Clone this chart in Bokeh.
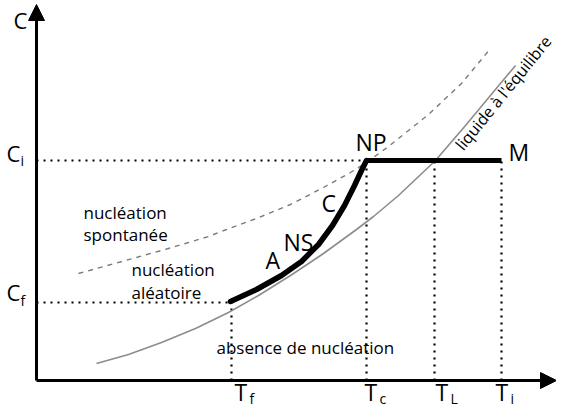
from bokeh.plotting import figure
from bokeh.models import Range1d, Arrow, NormalHead, LabelSet, ColumnDataSource
from bokeh.core.properties import value
from bokeh.embed import file_html
from bokeh.resources import INLINE

# ---- data (schematic units: T along x, C along y) ----
T_ticks = [195, 330, 398, 465]          # T_f, T_c, T_L, T_i
T_subs = ["f", "c", "L", "i"]
T_label_nudge = [3, -2, 1, -6]
C_levels = [78, 220]                    # C_f, C_i
C_subs = ["f", "i"]

eq_T = [60, 92, 125, 159, 192, 222, 254, 287, 320, 337, 362, 399, 429, 479]
eq_C = [17, 26, 38, 52, 68, 85, 105, 127, 151, 164, 185, 220, 255, 315]

spont_T = [42, 89, 132, 172, 190, 220, 254, 287, 314, 330, 352, 392, 425, 454]
spont_C = [107, 120, 132, 144, 151, 162, 176, 193, 208, 218, 234, 266, 297, 332]

path_T = [194, 220, 245, 265, 282, 296, 308, 318, 325, 330]
path_C = [79, 91, 105, 119, 136, 155, 175, 195, 210, 220]

point_labels = ["A", "NS", "C", "NP", "M"]
point_T = [229, 247, 285, 319, 472]
point_C = [112, 130, 169, 230, 220]

region_texts = ["nucléation", "spontanée", "nucléation", "aléatoire", "absence de nucléation"]
region_T = [47, 47, 95, 95, 180]
region_C = [162, 140, 105, 82, 27]

curve_label = "liquide à l'équilibre"

T_f, T_c, T_L, T_i = T_ticks
C_f, C_i = C_levels

FONT = value("Open Sans")

p = figure(width=556, height=411, output_backend="svg", toolbar_location=None,
           x_range=Range1d(-36, 520), y_range=Range1d(-31, 380),
           min_border=0, min_border_left=0, min_border_right=0,
           min_border_top=0, min_border_bottom=0)
p.axis.visible = False
p.grid.visible = False
p.outline_line_color = None
p.background_fill_color = "white"

# dotted guide lines
dot = dict(line_color="black", line_width=2.2, line_dash="2 5")
p.line([0, T_c], [C_i, C_i], **dot)
p.line([0, T_f], [C_f, C_f], **dot)
p.line([T_f, T_f], [0, C_f], **dot)
for t in [T_c, T_L, T_i]:
    p.line([t, t], [0, C_i], **dot)

# equilibrium liquid curve
p.line(eq_T, eq_C, line_color="#8c8c8c", line_width=1.6, line_join="round")
# spontaneous nucleation limit (dashed)
p.line(spont_T, spont_C, line_color="#7a7a7a", line_width=1.4, line_dash="5 5",
       line_join="round")
# cooling path
p.line(path_T, path_C, line_color="black", line_width=5.5, line_cap="round",
       line_join="round")
p.line([T_c, T_i], [C_i, C_i], line_color="black", line_width=5)

# axes with arrows
p.add_layout(Arrow(end=NormalHead(size=16, fill_color="black", line_color="black"),
                   x_start=0, y_start=0, x_end=0, y_end=376,
                   line_width=3, line_color="black"))
p.add_layout(Arrow(end=NormalHead(size=16, fill_color="black", line_color="black"),
                   x_start=0, y_start=0, x_end=520, y_end=0,
                   line_width=3, line_color="black"))


def labels(xs, ys, texts, size, angle=0.0):
    src = ColumnDataSource(dict(x=xs, y=ys, t=texts))
    ls = LabelSet(x="x", y="y", text="t", source=src, text_font=FONT,
                  text_font_size=value(size), text_color="black", text_align="left",
                  text_baseline="alphabetic", angle=angle, angle_units="deg")
    p.add_layout(ls)


# axis labels
labels([-23], [352], ["C"], "22px")
labels([-30, -30], [C_f + 2, C_i - 1], ["C", "C"], "22px")
labels([-16, -16], [C_f - 3, C_i - 5], C_subs, "14px")

tx = [t + n for t, n in zip(T_ticks, T_label_nudge)]
labels(tx, [-20] * 4, ["T"] * 4, "23px")
labels([v + 15 for v in tx], [-23] * 4, T_subs, "14px")

# point labels
labels(point_T, point_C, point_labels, "23px")

# region texts
labels(region_T, region_C, region_texts, "17px")

# rotated curve label
labels([427], [229], [curve_label], "16px", angle=51)

open("out.html", "w").write(file_html(p, INLINE))
